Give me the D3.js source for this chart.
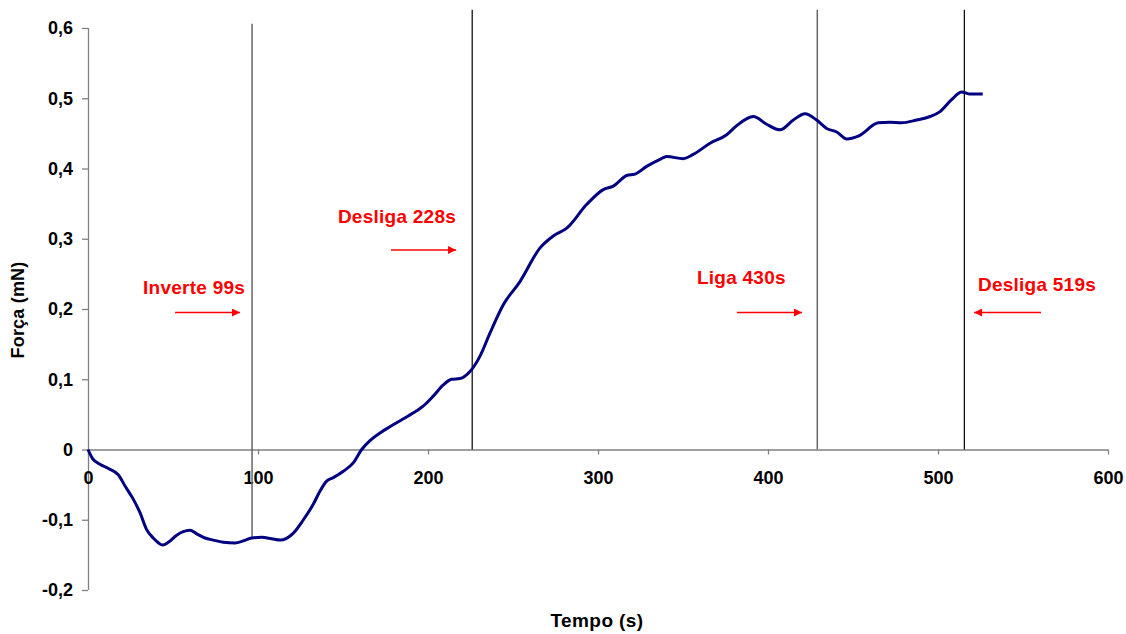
<!DOCTYPE html>
<html>
<head>
<meta charset="utf-8">
<script src="https://cdn.jsdelivr.net/npm/d3@7"></script>
<style>
  body { margin: 0; background: #fff; }
  svg text { font-family: "Liberation Sans", Arial, sans-serif; font-weight: bold; }
</style>
</head>
<body>
<div id="chart"></div>
<script>
// tempo (s) and força (mN)
var tempo = [0, 2.7, 7, 12, 17.8, 21.8, 26.7, 30.6, 34.5, 38.4, 43.9, 47.3, 52.2, 56, 60, 63.9,
  68.8, 73.7, 79.6, 86.5, 91.4, 96.3, 102.2, 108, 113, 120.8, 126.7, 132.5, 136.5, 140.4,
  144.3, 150.2, 156, 161, 166, 172, 178, 185, 193.3, 197.3, 203.1, 209, 213.9,
  218.8, 224.7, 230.6, 236.5, 244.3, 254.1, 265.9, 273.7, 281.6, 293.4, 303.1, 309, 316.9,
  321.8, 328.6, 336.5, 340.4, 350.2, 356, 365.9, 375.7, 381.6, 391.4, 399.2, 407.1, 414.9,
  421.8, 428.6, 434.5, 440.4, 446.3, 453.1, 464.9, 471.8, 478.6, 487.5, 495.3, 501.2, 508,
  513.9, 518.4, 526.3];
var forca = [0, -0.013, -0.021, -0.027, -0.036, -0.052, -0.071, -0.090, -0.114, -0.126, -0.136,
  -0.132, -0.122, -0.117, -0.115, -0.120, -0.126, -0.129, -0.132, -0.133, -0.130, -0.126,
  -0.125, -0.127, -0.129, -0.119, -0.100, -0.078, -0.059, -0.045, -0.040, -0.031, -0.019,
  0, 0.013, 0.024, 0.033, 0.043, 0.055, 0.062, 0.076, 0.092, 0.100, 0.101, 0.111, 0.133,
  0.166, 0.206, 0.239, 0.287, 0.304, 0.315, 0.349, 0.370, 0.375, 0.390, 0.392, 0.403,
  0.413, 0.417, 0.414, 0.420, 0.436, 0.448, 0.461, 0.474, 0.463, 0.455, 0.469, 0.478,
  0.469, 0.457, 0.452, 0.442, 0.446, 0.465, 0.466, 0.465, 0.469, 0.474, 0.481, 0.498,
  0.509, 0.506, 0.506];

var xTicks = [0, 100, 200, 300, 400, 500, 600];
var yTicks = [-0.2, -0.1, 0, 0.1, 0.2, 0.3, 0.4, 0.5, 0.6];

// event markers (vertical lines)
var eventTimes = [96.5, 226, 429, 515.5];
var eventTop = [0.606, 0.626, 0.626, 0.626];
var eventBottom = [-0.126, 0, 0, 0];

// annotations: label, text anchor (t, F), arrow from/to (t) at level F
var labels = ["Inverte 99s", "Desliga 228s", "Liga 430s", "Desliga 519s"];
var labelT = [32.4, 147, 358.2, 523.5];
var labelF = [0.222, 0.323, 0.236, 0.226];
var arrowFrom = [51.2, 178.2, 381.8, 560.6];
var arrowTo = [89.4, 216.5, 420, 521.2];
var arrowF = [0.195, 0.284, 0.195, 0.195];

var width = 1126, height = 634;

var svg = d3.select("#chart").append("svg")
    .attr("width", width)
    .attr("height", height);

var x = d3.scaleLinear().domain([0, 600]).range([88, 1108]);
var y = d3.scaleLinear().domain([-0.2, 0.6]).range([590, 28]);

var fmt = function(d) {
    return String(Math.round(d * 10) / 10).replace(".", ",");
};

svg.append("defs").append("marker")
    .attr("id", "head")
    .attr("viewBox", "0 0 10 10")
    .attr("refX", 10).attr("refY", 5)
    .attr("markerWidth", 10).attr("markerHeight", 8)
    .attr("markerUnits", "userSpaceOnUse")
    .attr("orient", "auto")
    .append("path")
    .attr("d", "M0,0L10,5L0,10Z")
    .attr("fill", "#ff0000");

// y axis
var yAxis = svg.append("g")
    .attr("transform", "translate(" + x(0) + ",0)")
    .call(d3.axisLeft(y).tickValues(yTicks).tickFormat(fmt).tickSize(6).tickPadding(9));

// x axis at zero
var xAxis = svg.append("g")
    .attr("transform", "translate(0," + y(0) + ")")
    .call(d3.axisBottom(x).tickValues(xTicks).tickFormat(d3.format("d")).tickSize(5).tickPadding(17));

[yAxis, xAxis].forEach(function(a) {
    a.select(".domain").attr("stroke", "#808080").attr("stroke-width", 1.3);
    a.selectAll(".tick line").attr("stroke", "#808080").attr("stroke-width", 1.3);
    a.selectAll(".tick text").attr("fill", "#000").style("font-size", "18px");
});
// plain axis lines without end ticks
xAxis.select(".domain").attr("d", "M" + x(0) + ",0.5H" + x(600));
yAxis.select(".domain").attr("d", "M0.5," + y(0.6) + "V" + y(-0.2));

// vertical event lines
var lineColors = ["#666666", "#000000", "#666666", "#000000"];
var lineWidths = [1.5, 1.2, 1.5, 1.2];
svg.selectAll(".event")
    .data(eventTimes)
    .enter().append("line")
    .attr("class", "event")
    .attr("x1", function(d) { return x(d); })
    .attr("x2", function(d) { return x(d); })
    .attr("y1", function(d, i) { return y(eventTop[i]); })
    .attr("y2", function(d, i) { return y(eventBottom[i]); })
    .attr("stroke", function(d, i) { return lineColors[i]; })
    .attr("stroke-width", function(d, i) { return lineWidths[i]; });

// curve
var line = d3.line()
    .x(function(d) { return x(d[0]); })
    .y(function(d) { return y(d[1]); })
    .curve(d3.curveMonotoneX);

svg.append("path")
    .datum(d3.zip(tempo, forca))
    .attr("d", line)
    .attr("fill", "none")
    .attr("stroke", "#000080")
    .attr("stroke-width", 3)
    .attr("stroke-linejoin", "round");

// annotations
svg.selectAll(".lbl")
    .data(labels)
    .enter().append("text")
    .attr("class", "lbl")
    .attr("x", function(d, i) { return x(labelT[i]); })
    .attr("y", function(d, i) { return y(labelF[i]); })
    .attr("fill", "#ff0000")
    .style("font-size", "19px")
    .style("letter-spacing", "0.25px")
    .text(function(d) { return d; });

svg.selectAll(".arrow")
    .data(labels)
    .enter().append("line")
    .attr("class", "arrow")
    .attr("x1", function(d, i) { return x(arrowFrom[i]); })
    .attr("x2", function(d, i) { return x(arrowTo[i]); })
    .attr("y1", function(d, i) { return y(arrowF[i]); })
    .attr("y2", function(d, i) { return y(arrowF[i]); })
    .attr("stroke", "#ff0000")
    .attr("stroke-width", 1.3)
    .attr("marker-end", "url(#head)");

// axis titles
svg.append("text")
    .attr("x", 597)
    .attr("y", 627)
    .attr("text-anchor", "middle")
    .style("font-size", "19px")
    .style("letter-spacing", "0.4px")
    .text("Tempo (s)");

svg.append("text")
    .attr("transform", "translate(24,310) rotate(-90)")
    .attr("text-anchor", "middle")
    .style("font-size", "18px")
    .style("letter-spacing", "0.2px")
    .text("Força (mN)");
</script>
</body>
</html>
